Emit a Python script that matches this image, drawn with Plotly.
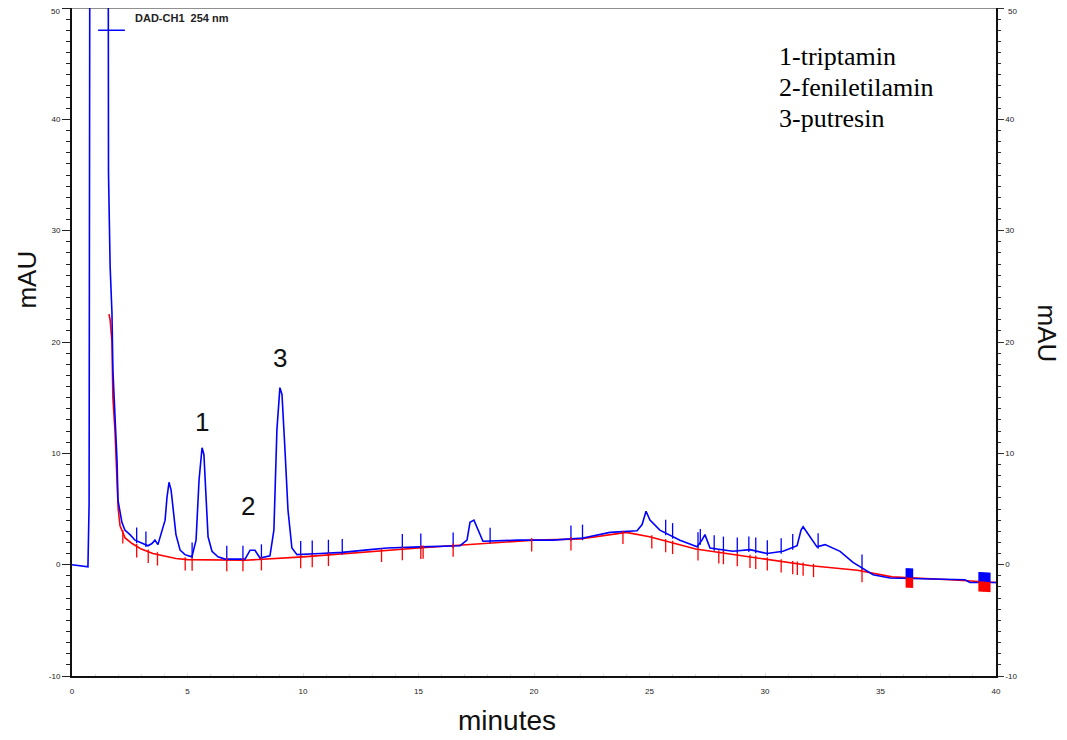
import numpy as np
import plotly.graph_objects as go

# ---- data (minutes, mAU) ----
signal_t = [0.00, 0.35, 0.69, 0.74, 0.78, 1.56, 1.58, 1.65, 1.73, 1.77, 1.86, 1.95, 1.99, 2.08, 2.16,
            2.29, 2.51, 2.73, 2.94, 3.29, 3.46, 3.59, 3.72, 3.90, 4.03, 4.11, 4.20, 4.29, 4.37, 4.50,
            4.68, 4.89, 5.19, 5.37, 5.50, 5.63, 5.71, 5.80, 5.89, 6.06, 6.32, 6.62, 7.49, 7.71, 7.92,
            8.14, 8.57, 8.74, 8.87, 9.00, 9.09, 9.22, 9.35, 9.52, 9.74, 10.74, 11.69, 12.90, 13.64,
            15.06, 16.80, 17.10, 17.23, 17.40, 17.58, 17.79, 19.26, 20.82, 22.12, 23.29, 24.46, 24.68,
            24.85, 25.02, 25.45, 26.32, 27.06, 27.27, 27.40, 27.62, 28.61, 29.35, 30.09, 30.78, 31.39,
            31.56, 31.65, 31.82, 32.03, 32.25, 32.60, 32.94, 33.25, 33.81, 34.33, 34.68, 35.41, 38.01,
            38.66, 38.87, 40.00]
signal_v = [0.0, -0.1, -0.2, 5.4, 70.0, 70.0, 35.2, 26.8, 22.6, 17.5, 13.7, 9.3, 5.8, 4.7, 3.8,
            3.1, 2.7, 2.2, 2.0, 1.7, 1.9, 2.2, 1.8, 3.0, 4.0, 6.0, 7.4, 6.7, 4.9, 2.7,
            1.3, 0.9, 0.7, 2.2, 7.6, 10.5, 9.9, 5.8, 2.5, 1.2, 0.7, 0.5, 0.5, 1.3, 1.3,
            0.6, 0.8, 3.1, 12.1, 15.9, 15.3, 10.3, 4.9, 1.5, 0.9, 1.0, 1.1, 1.35, 1.5,
            1.6, 1.7, 2.2, 3.8, 4.0, 3.1, 2.1, 2.2, 2.2, 2.4, 2.9, 3.05, 3.6,
            4.8, 4.0, 3.1, 2.2, 1.6, 2.2, 2.7, 1.5, 1.2, 1.35, 1.0, 1.2, 1.7,
            3.1, 3.4, 2.9, 2.2, 1.6, 1.8, 1.5, 1.2, 0.2, -0.45, -0.9, -1.2, -1.35,
            -1.35, -1.6, -1.6]

baseline_t = [1.60, 1.65, 1.73, 1.77, 1.86, 1.95, 2.00, 2.08, 2.30, 2.60, 3.00, 3.50, 4.00, 4.50,
              5.00, 7.50, 10.0, 15.0, 20.0, 22.0, 24.0, 25.0, 27.0, 30.0, 32.0, 34.0, 35.5, 38.0, 40.0]
baseline_v = [22.5, 22.0, 20.0, 15.0, 12.0, 8.0, 5.0, 3.5, 2.4, 1.9, 1.4, 1.0, 0.8, 0.55,
              0.45, 0.4, 0.7, 1.5, 2.2, 2.3, 2.9, 2.5, 1.4, 0.5, -0.1, -0.5, -1.1, -1.35, -1.6]

# integration event marks
blue_tick_t = [2.8, 3.2, 5.2, 6.7, 7.4, 8.2, 9.9, 10.4, 11.1, 11.7, 14.3, 15.1, 16.5, 18.1, 21.6, 22.1,
               25.7, 26.0, 27.1, 27.2, 27.8, 28.2, 28.8, 29.3, 29.6, 30.1, 30.7, 31.2, 32.3, 34.2]
red_tick_t = [2.2, 2.8, 3.3, 3.7, 4.9, 5.2, 6.7, 7.4, 8.2, 9.9, 10.4, 11.1, 13.4, 14.3, 15.1, 15.2, 16.5,
              19.9, 21.6, 23.85, 25.1, 25.7, 26.0, 27.1, 28.0, 28.2, 28.8, 29.35, 29.6, 30.1, 30.7,
              31.2, 31.4, 31.65, 32.1, 34.2]
block_t = [36.15, 36.25, 36.35, 39.3, 39.4, 39.5, 39.6, 39.7]

peak_labels = ["1", "2", "3"]
peak_label_t = [5.63, 7.62, 9.0]
peak_label_v = [12.85, 5.3, 18.6]

legend_lines = ["1-triptamin", "2-feniletilamin", "3-putresin"]
legend_t = [30.5, 30.5, 30.5]
legend_v = [45.6, 42.9, 40.1]
channel_label = "DAD-CH1  254 nm"

y_ticks = [-10, 0, 10, 20, 30, 40, 50]
y_tick_text = ["-10", "0", "10", "20", "30", "40", ""]   # top label drawn separately (edge)
y_top_label = "50"
x_ticks = [0, 5, 10, 15, 20, 25, 30, 35, 40]

BLUE = "#0000ff"
RED = "#ff0000"
SANS = "Liberation Sans, Arial"

fig = go.Figure()

fig.add_trace(go.Scatter(x=baseline_t, y=baseline_v, mode="lines",
                         line=dict(color=RED, width=1.6), hoverinfo="skip", showlegend=False))
fig.add_trace(go.Scatter(x=signal_t, y=signal_v, mode="lines",
                         line=dict(color=BLUE, width=1.6), hoverinfo="skip", showlegend=False))


def segs(ts, ref_t, ref_v, lo, hi):
    xs, ys = [], []
    for t in ts:
        y0 = float(np.interp(t, ref_t, ref_v))
        xs += [t, t, None]
        ys += [y0 + lo, y0 + hi, None]
    return xs, ys


bx, by = segs(blue_tick_t, signal_t, signal_v, -0.2, 1.2)
fig.add_trace(go.Scatter(x=bx, y=by, mode="lines", line=dict(color=BLUE, width=1.3),
                         hoverinfo="skip", showlegend=False))
rx, ry = segs(red_tick_t, baseline_t, baseline_v, 0.2, -1.0)
fig.add_trace(go.Scatter(x=rx, y=ry, mode="lines", line=dict(color=RED, width=1.3),
                         hoverinfo="skip", showlegend=False))
kx, ky = segs(block_t, baseline_t, baseline_v, 0.0, 0.85)
fig.add_trace(go.Scatter(x=kx, y=ky, mode="lines", line=dict(color=BLUE, width=3),
                         hoverinfo="skip", showlegend=False))
kx2, ky2 = segs(block_t, baseline_t, baseline_v, 0.0, -0.9)
fig.add_trace(go.Scatter(x=kx2, y=ky2, mode="lines", line=dict(color=RED, width=3),
                         hoverinfo="skip", showlegend=False))

# solvent-peak cross marker
fig.add_trace(go.Scatter(x=[1.13, 2.29], y=[48.0, 48.0], mode="lines",
                         line=dict(color=BLUE, width=1.5), hoverinfo="skip", showlegend=False))

# invisible trace for the right axis
fig.add_trace(go.Scatter(x=[0], y=[0], yaxis="y2", mode="markers", marker=dict(opacity=0),
                         hoverinfo="skip", showlegend=False))

for lab, t, v in zip(peak_labels, peak_label_t, peak_label_v):
    fig.add_annotation(x=t, y=v, text=lab, showarrow=False, xanchor="center", yanchor="middle",
                       font=dict(family=SANS, size=26, color="#111111"))

for line, t, v in zip(legend_lines, legend_t, legend_v):
    fig.add_annotation(x=t, y=v, text=line, showarrow=False, xanchor="left", yanchor="middle",
                       font=dict(family="Liberation Serif, Times New Roman", size=26, color="#000000"))

fig.add_annotation(x=0.066, y=0.985, xref="paper", yref="paper", xanchor="left", yanchor="middle",
                   text="<b>" + channel_label + "</b>", showarrow=False,
                   font=dict(family=SANS, size=11, color="#222222"))

tickfont = dict(family=SANS, size=8, color="#222222")

# top tick labels of both value axes (kept inside the page)
fig.add_annotation(x=-0.011, y=y_ticks[-1], xref="paper", yref="y", text=y_top_label,
                   xanchor="right", yanchor="top", yshift=3, showarrow=False, font=tickfont)
fig.add_annotation(x=1.011, y=y_ticks[-1], xref="paper", yref="y", text=y_top_label,
                   xanchor="left", yanchor="top", yshift=3, showarrow=False, font=tickfont)

fig.add_annotation(x=-0.049, y=0.593, xref="paper", yref="paper", text="mAU", textangle=-90,
                   xanchor="center", yanchor="middle",
                   showarrow=False, font=dict(family=SANS, size=26, color="#111111"))
fig.add_annotation(x=1.055, y=0.513, xref="paper", yref="paper", text="mAU", textangle=90,
                   xanchor="center", yanchor="middle",
                   showarrow=False, font=dict(family=SANS, size=26, color="#111111"))
fig.add_annotation(x=0.471, y=-0.066, xref="paper", yref="paper", text="minutes", showarrow=False,
                   xanchor="center", yanchor="middle", font=dict(family=SANS, size=28, color="#111111"))

fig.add_shape(type="line", xref="paper", yref="paper", x0=0, x1=1, y0=1, y1=1,
              line=dict(color="#222222", width=1))

# page body adds an 8px offset: size figure so that the plot area lands where the reference has it
fig.update_layout(
    width=1059, height=732,
    margin=dict(l=64, r=71, t=0, b=64, autoexpand=False),
    paper_bgcolor="white", plot_bgcolor="white",
    xaxis=dict(range=[0, 40], tickvals=x_ticks, ticktext=[str(v) for v in x_ticks],
               showgrid=False, zeroline=False, showline=True, linecolor="#111111", linewidth=2,
               ticks="inside", ticklen=3, tickcolor="#dddddd", tickfont=tickfont,
               ticklabelstandoff=6,
               minor=dict(dtick=1, ticks="inside", ticklen=2, tickcolor="#dddddd")),
    yaxis=dict(range=[-10, 50], tickvals=y_ticks, ticktext=y_tick_text,
               showgrid=False, zeroline=False, showline=True, linecolor="#111111", linewidth=2,
               ticks="outside", ticklen=8, tickcolor="#222222", tickfont=tickfont,
               minor=dict(dtick=1, ticks="outside", ticklen=4, tickcolor="#222222")),
    yaxis2=dict(range=[-10, 50], tickvals=y_ticks, ticktext=y_tick_text,
                overlaying="y", side="right", showgrid=False, zeroline=False,
                showline=True, linecolor="#111111", linewidth=1.5,
                ticks="outside", ticklen=6, tickcolor="#333333", tickfont=tickfont,
                minor=dict(dtick=1, ticks="outside", ticklen=3, tickcolor="#333333")),
)

fig.write_html("out.html")
